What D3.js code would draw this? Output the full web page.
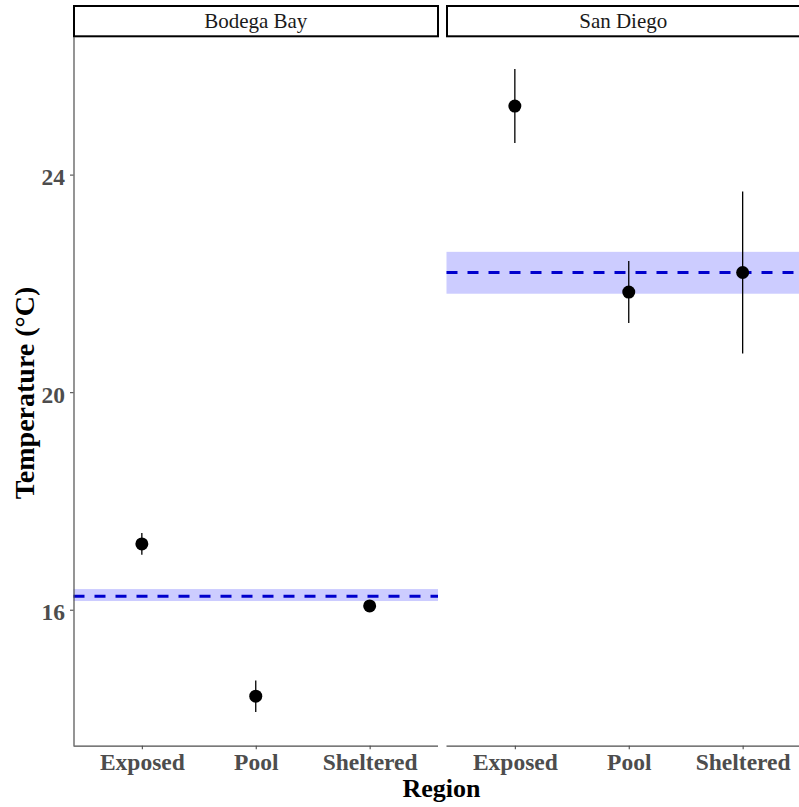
<!DOCTYPE html>
<html>
<head>
<meta charset="utf-8">
<script src="https://cdn.jsdelivr.net/npm/d3@7"></script>
<style>
  html, body { margin: 0; padding: 0; background: #fff; overflow: hidden; }
  svg { display: block; }
</style>
</head>
<body>
<script>
// Site-level temperature summaries (mean ± SD) by habitat, per region
const panels = ["Bodega Bay", "San Diego"];
const habitats = ["Exposed", "Pool", "Sheltered"];
const bodegaMean = [17.21, 14.41, 16.07];
const bodegaSD = [0.20, 0.29, 0.03];
const sanDiegoMean = [25.26, 21.84, 22.20];
const sanDiegoSD = [0.68, 0.57, 1.49];
// Regional mean (dashed line) and its confidence band
const regionMean = [16.25, 22.20];
const regionLow = [16.16, 21.81];
const regionHigh = [16.38, 22.58];
const yTicks = [16, 20, 24];

const seriesMean = [bodegaMean, sanDiegoMean];
const seriesSD = [bodegaSD, sanDiegoSD];

const W = 799, H = 807;
const svg = d3.select("body").append("svg").attr("width", W).attr("height", H);

const plotTop = 37, plotBottom = 745.7;
const panelX = [[73.5, 438], [446.5, 811]];
const y = d3.scaleLinear().domain([13.5, 26.53]).range([plotBottom, plotTop]);

const serif = "'Liberation Serif', 'Times New Roman', serif";
const axisGrey = "#4d4d4d";

panels.forEach((name, p) => {
  const [x0, x1] = panelX[p];
  const x = d3.scalePoint().domain(habitats).range([x0, x1]).padding(0.6);
  const g = svg.append("g");

  // Confidence band and dashed regional mean
  g.append("rect")
    .attr("x", x0).attr("width", x1 - x0)
    .attr("y", y(regionHigh[p]))
    .attr("height", y(regionLow[p]) - y(regionHigh[p]))
    .attr("fill", "#ccccff");
  g.append("line")
    .attr("x1", x0).attr("x2", x1)
    .attr("y1", y(regionMean[p])).attr("y2", y(regionMean[p]))
    .attr("stroke", "#0000cd").attr("stroke-width", 3)
    .attr("stroke-dasharray", "11,10");

  const rows = habitats.map((h, i) => ({ h, m: seriesMean[p][i], s: seriesSD[p][i] }));

  // Error bars
  g.selectAll("line.err").data(rows).join("line")
    .attr("class", "err")
    .attr("x1", d => x(d.h)).attr("x2", d => x(d.h))
    .attr("y1", d => y(d.m - d.s)).attr("y2", d => y(d.m + d.s))
    .attr("stroke", "#000").attr("stroke-width", 1.3);

  // Mean points
  g.selectAll("circle").data(rows).join("circle")
    .attr("cx", d => x(d.h)).attr("cy", d => y(d.m)).attr("r", 6.5)
    .attr("fill", "#000");

  // x axis
  const xAxis = g.append("g").attr("transform", `translate(0,${plotBottom})`)
    .call(d3.axisBottom(x).tickSize(3.5).tickPadding(6).tickSizeOuter(0));
  xAxis.select(".domain").attr("stroke", axisGrey).attr("stroke-width", 1.2)
    .attr("d", `M${x0},0.5H${x1}`);
  xAxis.selectAll(".tick line").attr("stroke", axisGrey).attr("stroke-width", 1.1);
  xAxis.selectAll(".tick text")
    .attr("fill", axisGrey).attr("font-family", serif).attr("font-weight", "bold")
    .attr("font-size", 23.5).attr("dy", null).attr("y", 24.3);

  // Facet strip
  svg.append("rect")
    .attr("x", x0 + 0.5).attr("y", 6)
    .attr("width", x1 - x0 - 0.5).attr("height", 30.3)
    .attr("fill", "#fff").attr("stroke", "#000").attr("stroke-width", 2);
  svg.append("text")
    .attr("x", (x0 + x1) / 2 + (p === 1 ? -5.5 : 0)).attr("y", 28)
    .attr("text-anchor", "middle")
    .attr("font-family", serif).attr("font-size", 21).attr("fill", "#1a1a1a")
    .text(name);
});

// y axis on the first panel
const yAxis = svg.append("g").attr("transform", `translate(${panelX[0][0]},0)`)
  .call(d3.axisLeft(y).tickValues(yTicks).tickSize(3.5).tickPadding(5).tickSizeOuter(0));
yAxis.select(".domain").attr("stroke", axisGrey).attr("stroke-width", 1.2)
  .attr("d", `M0.5,${plotTop}V${plotBottom}`);
yAxis.selectAll(".tick line").attr("stroke", axisGrey).attr("stroke-width", 1.1);
yAxis.selectAll(".tick text")
  .attr("fill", axisGrey).attr("font-family", serif).attr("font-weight", "bold")
  .attr("font-size", 23.5).attr("dy", "0.43em");

// Axis titles
svg.append("text")
  .attr("x", 441.5).attr("y", 796.5)
  .attr("text-anchor", "middle")
  .attr("font-family", serif).attr("font-weight", "bold").attr("font-size", 26)
  .attr("fill", "#000").text("Region");
svg.append("text")
  .attr("transform", "translate(33.5,393) rotate(-90)")
  .attr("text-anchor", "middle")
  .attr("font-family", serif).attr("font-weight", "bold").attr("font-size", 28)
  .attr("fill", "#000").text("Temperature (°C)");
</script>
</body>
</html>
